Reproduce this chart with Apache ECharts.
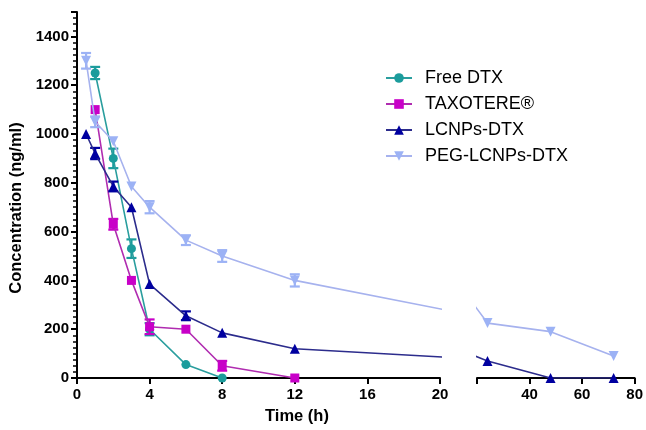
<!DOCTYPE html>
<html>
<head>
<meta charset="utf-8">
<script src="https://cdn.jsdelivr.net/npm/echarts@6/dist/echarts.min.js"></script>
<style>
html,body{margin:0;padding:0;background:#fff;}
#chart{width:646px;height:430px;}
</style>
</head>
<body>
<div id="chart"></div>
<script>
// ---- data ----
var times = [0.5, 1, 2, 3, 4, 6, 8, 12, 24, 48, 72];
var seriesNames = ['Free DTX', 'TAXOTERE®', 'LCNPs-DTX', 'PEG-LCNPs-DTX'];
var freeDTX     = [null, 1250, 900, 530, 200, 55, 0, null, null, null, null];
var taxotere    = [null, 1100, 630, 400, 210, 200, 50, 0, null, null, null];
var lcnpsDTX    = [1000, 920, 785, 700, 385, 255, 185, 120, 70, 0, 0];
var pegLcnpsDTX = [1300, 1050, 970, 785, 700, 565, 500, 400, 225, 190, 90];
var freeErr     = [0, 25, 40, 38, 25, 0, 0, 0, 0, 0, 0];
var taxErr      = [0, 0, 22, 0, 30, 0, 20, 0, 0, 0, 0];
var lcnpsErr    = [0, 23, 20, 0, 0, 18, 0, 0, 0, 0, 0];
var pegErr      = [32, 22, 0, 0, 25, 20, 24, 25, 0, 0, 0];
var xTicksLeft  = [0, 4, 8, 12, 16, 20];
var xTicksRight = [40, 60, 80];
var yTicks      = [0, 200, 400, 600, 800, 1000, 1200, 1400];

var colors = ['#1b9c9c', '#c800c8', '#0000a0', '#9cb2f5'];
var lineColors = ['#2a9e9e', '#b02cb0', '#2c2c8c', '#a6b2ee'];
var symbols = ['circle', 'rect', 'triangle', 'path://M0,0 L10,0 L5,9 Z'];
var symbolSizes = [9, 9, 10, 10];
var allValues = [freeDTX, taxotere, lcnpsDTX, pegLcnpsDTX];
var allErrs = [freeErr, taxErr, lcnpsErr, pegErr];

function pairs(vals) {
  var out = [];
  for (var i = 0; i < times.length; i++) if (vals[i] !== null) out.push([times[i], vals[i]]);
  return out;
}
function errPairs(vals, errs) {
  var out = [];
  for (var i = 0; i < times.length; i++) if (vals[i] !== null && errs[i] > 0) out.push([times[i], vals[i] - errs[i], vals[i] + errs[i]]);
  return out;
}

var font = 'Liberation Sans, Arial, sans-serif';
var axisCommon = {
  axisLine: {show: true, lineStyle: {color: '#000', width: 2}},
  axisTick: {show: true, length: 6, lineStyle: {color: '#000', width: 2}},
  axisLabel: {color: '#000', fontFamily: font, fontWeight: 'bold', fontSize: 15},
  splitLine: {show: false}
};

var series = [];
[0, 1, 2, 3].forEach(function (k) {
  [0, 1].forEach(function (g) {
    series.push({
      type: 'line', name: seriesNames[k], xAxisIndex: g, yAxisIndex: g,
      data: pairs(allValues[k]), clip: true,
      symbol: symbols[k], symbolSize: symbolSizes[k],
      itemStyle: {color: colors[k]},
      lineStyle: {color: lineColors[k], width: 1.6},
      z: 3 + k, animation: false
    });
  });
  series.push({
    type: 'custom', name: seriesNames[k], xAxisIndex: 0, yAxisIndex: 0,
    data: errPairs(allValues[k], allErrs[k]), z: 3 + k, animation: false,
    renderItem: (function (col) {
      return function (params, api) {
        var lo = api.coord([api.value(0), api.value(1)]);
        var hi = api.coord([api.value(0), api.value(2)]);
        var w = 5;
        var st = {stroke: col, lineWidth: 2.2};
        return {type: 'group', children: [
          {type: 'line', shape: {x1: lo[0], y1: lo[1], x2: hi[0], y2: hi[1]}, style: st},
          {type: 'line', shape: {x1: lo[0] - w, y1: lo[1], x2: lo[0] + w, y2: lo[1]}, style: st},
          {type: 'line', shape: {x1: hi[0] - w, y1: hi[1], x2: hi[0] + w, y2: hi[1]}, style: st}
        ]};
      };
    })(colors[k])
  });
});

var option = {
  backgroundColor: '#fff',
  animation: false,
  grid: [
    {left: 77, top: 12, width: 363, bottom: 52},
    {left: 477, top: 12, width: 159, bottom: 52}
  ],
  legend: {
    data: seriesNames, orient: 'vertical', left: 385, top: 69, padding: 0,
    itemWidth: 26, itemHeight: 12, itemGap: 8,
    textStyle: {fontFamily: font, fontSize: 18, color: '#000', padding: [0, 0, 0, 8]}
  },
  xAxis: [
    Object.assign({}, axisCommon, {type: 'value', gridIndex: 0, min: 0, max: 20, interval: 4,
      axisLabel: Object.assign({}, axisCommon.axisLabel, {margin: 9,
        formatter: function (v) { return xTicksLeft.indexOf(v) >= 0 ? String(v) : ''; }})}),
    Object.assign({}, axisCommon, {type: 'value', gridIndex: 1, min: 20, max: 80, interval: 20,
      axisLabel: Object.assign({}, axisCommon.axisLabel, {margin: 9,
        formatter: function (v) { return xTicksRight.indexOf(v) >= 0 ? String(v) : ''; }})})
  ],
  yAxis: [
    Object.assign({}, axisCommon, {type: 'value', gridIndex: 0, min: 0, max: 1500, interval: 200,
      minorTick: {show: true, splitNumber: 8, length: 4, lineStyle: {color: '#000', width: 1.5}},
      minorSplitLine: {show: false},
      axisLabel: Object.assign({}, axisCommon.axisLabel, {margin: 8,
        formatter: function (v) { return yTicks.indexOf(v) >= 0 ? String(v) : ''; }})}),
    {type: 'value', gridIndex: 1, min: 0, max: 1500, show: false, splitLine: {show: false}}
  ],
  graphic: [
    {type: 'text', x: 297, y: 416,
      style: {text: 'Time (h)', font: 'bold 16.5px ' + font, fill: '#000', textAlign: 'center', textVerticalAlign: 'middle'}},
    {type: 'text', x: 16, y: 208, rotation: Math.PI / 2,
      style: {text: 'Concentration (ng/ml)', font: 'bold 16.5px ' + font, fill: '#000', textAlign: 'center', textVerticalAlign: 'middle'}}
  ],
  series: series
};

var chart = echarts.init(document.getElementById('chart'), null, {renderer: 'canvas'});
chart.setOption(option);
</script>
</body>
</html>
